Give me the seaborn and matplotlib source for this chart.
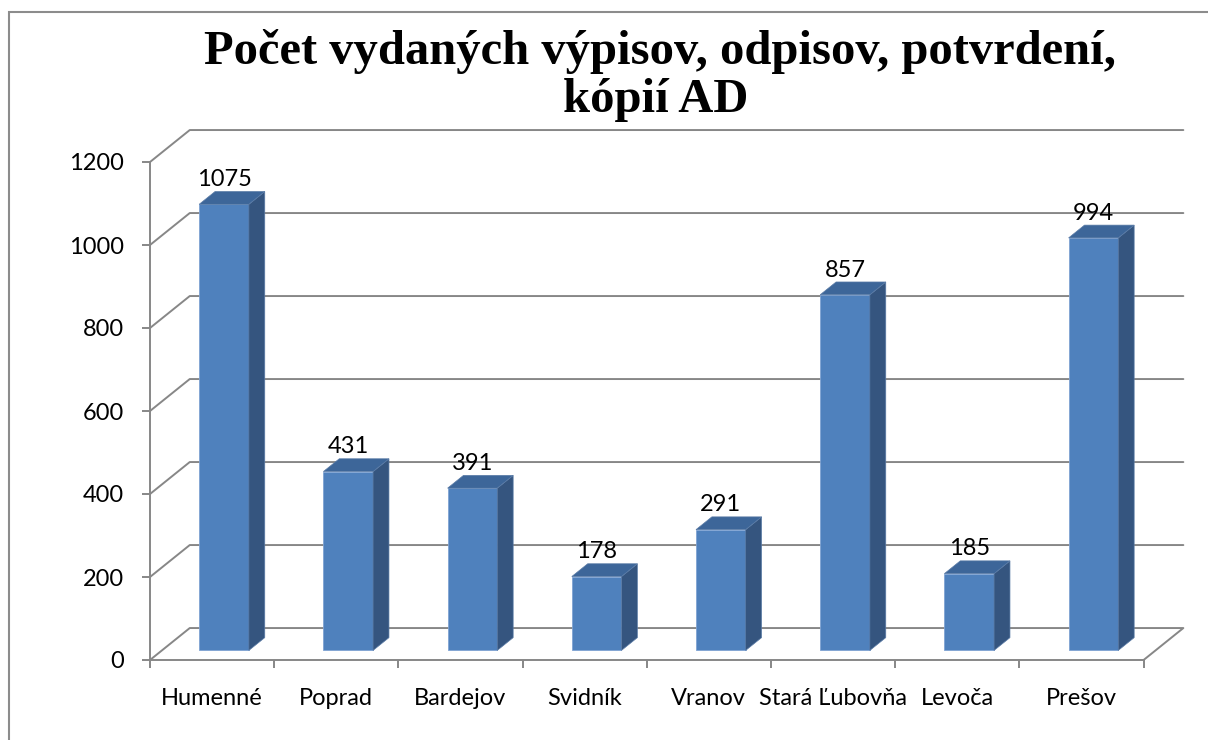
import numpy as np
import pandas as pd
import seaborn as sns
import matplotlib.pyplot as plt
from matplotlib.patches import Polygon, Rectangle
from matplotlib.transforms import Affine2D

towns = ['Humenné', 'Poprad', 'Bardejov', 'Svidník', 'Vranov',
         'Stará Ľubovňa', 'Levoča', 'Prešov']
counts = [1075, 431, 391, 178, 291, 857, 185, 994]
yticks = [0, 200, 400, 600, 800, 1000, 1200]
title = ['Počet vydaných výpisov, odpisov, potvrdení,', 'kópií AD']

df = pd.DataFrame({'town': towns, 'count': counts})

# fake 3d: depth direction in data units
DX, DY = 0.32, 77.0      # full depth of the floor / back wall
Z0, Z1 = 0.30, 0.70      # bar front / back depth
front_c = '#4F81BD'
side_c = '#35557F'
top_c = '#3D6699'
grid_c = '#878787'

sns.set_theme(style='white')
plt.rcParams['font.family'] = ['Lato', 'DejaVu Sans']
plt.rcParams['text.color'] = 'black'

fig = plt.figure(figsize=(12.08, 7.40), dpi=100)
W, H = 1208, 740
ax_l, ax_r, ax_b, ax_t = 150, 1192, 660, 125
ax = fig.add_axes([ax_l / W, (H - ax_b) / H, (ax_r - ax_l) / W, (ax_b - ax_t) / H])
n = len(towns)

sns.barplot(data=df, x='town', y='count', color=front_c, width=0.4,
            saturation=1, ax=ax, zorder=3, edgecolor='#7FA3D3', linewidth=0.6)

# seaborn sets its own limits, put ours back
ax.set_xlim(-0.5, -0.5 + (ax_r - ax_l) / 124.2)
ax.set_ylim(0, (ax_b - ax_t) / 0.415)

# gridlines on back wall (with the diagonal to the front axis)
for v in yticks[1:]:
    ax.plot([-0.5, -0.5 + DX, n - 0.5 + DX], [v, v + DY, v + DY],
            color=grid_c, lw=1.4, zorder=1, clip_on=False)
# floor
ax.plot([-0.5, -0.5 + DX, n - 0.5 + DX, n - 0.5],
        [0, DY, DY, 0], color=grid_c, lw=1.4, zorder=1, clip_on=False)

shift = Affine2D().translate(Z0 * DX, Z0 * DY)
dd = (Z1 - Z0)
for p, v in zip(ax.patches, counts):
    x0 = p.get_x()
    w = p.get_width()
    p.set_transform(shift + ax.transData)
    bx = x0 + Z0 * DX
    by = Z0 * DY
    # side face
    side = [(bx + w, by), (bx + w + dd * DX, by + dd * DY),
            (bx + w + dd * DX, by + v + dd * DY), (bx + w, by + v)]
    ax.add_patch(Polygon(side, closed=True, fc=side_c, ec='#5A7BA6', lw=0.5, zorder=3))
    # top face
    top = [(bx, by + v), (bx + w, by + v),
           (bx + w + dd * DX, by + v + dd * DY), (bx + dd * DX, by + v + dd * DY)]
    ax.add_patch(Polygon(top, closed=True, fc=top_c, ec='#5A7BA6', lw=0.5, zorder=3))
    ax.annotate(f'{v}', (bx + w / 2, by + v + dd * DY), xytext=(0, 1),
                textcoords='offset points', ha='center', va='bottom',
                fontsize=17, color='black', zorder=4)

# axes: front y axis and front floor edge
for s in ['top', 'right']:
    ax.spines[s].set_visible(False)
for s in ['left', 'bottom']:
    ax.spines[s].set_visible(True)
    ax.spines[s].set_color(grid_c)
    ax.spines[s].set_linewidth(1.4)
ax.spines['left'].set_bounds(0, 1200)
ax.spines['bottom'].set_bounds(-0.5, n - 0.5)

ax.set_yticks(yticks)
ax.set_yticklabels([str(t) for t in yticks], fontsize=17, color='black')
ax.set_xticks(np.arange(n + 1) - 0.5)
ax.set_xticklabels([])
ax.set_xticks(np.arange(n), minor=True)
ax.set_xticklabels(towns, minor=True, fontsize=17, color='black')
ax.tick_params(axis='y', which='major', left=True, length=6, width=1.4,
               color=grid_c, pad=13)
ax.tick_params(axis='x', which='major', bottom=True, length=6, width=1.4,
               color=grid_c)
ax.tick_params(axis='x', which='minor', bottom=False, length=0, pad=20)
ax.set_xlabel('')
ax.set_ylabel('')
ax.grid(False)

fig.text(660 / W, 1 - 52 / H, title[0], ha='center', va='center',
         fontsize=35, fontweight='bold', family='Liberation Serif', color='black')
fig.text(656 / W, 1 - 100 / H, title[1], ha='center', va='center',
         fontsize=35, fontweight='bold', family='Liberation Serif', color='black')

# chart frame
fig.add_artist(Rectangle((9 / W, -0.1), 1.2, 1 - 12 / H + 0.1,
                         transform=fig.transFigure, fill=False,
                         ec='#8C8C8C', lw=1.5))

fig.savefig('out.png', dpi=100)
